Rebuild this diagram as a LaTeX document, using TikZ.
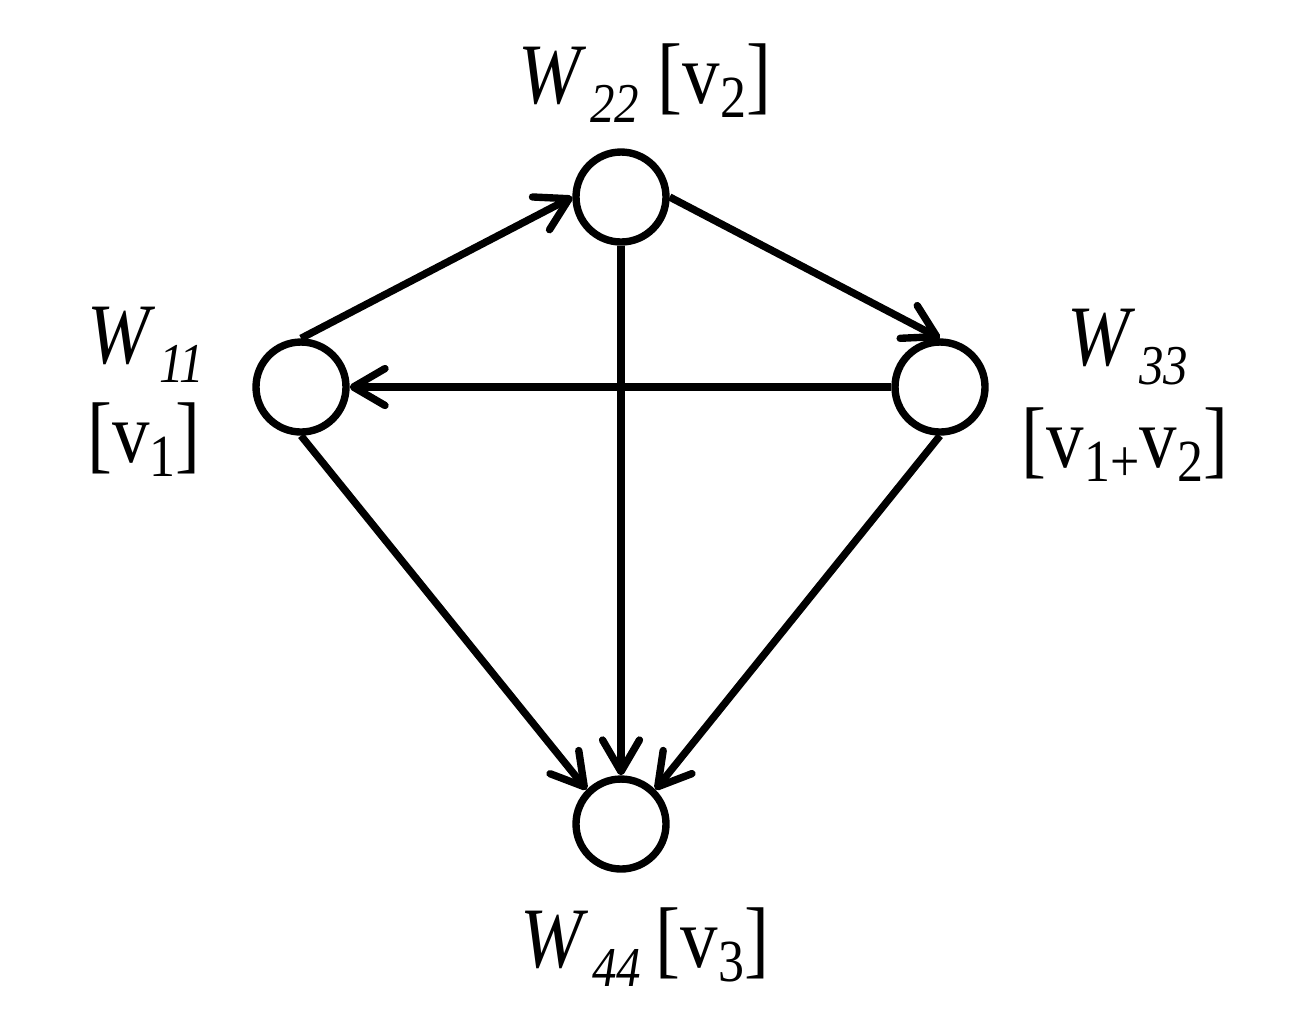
\documentclass[tikz,border=0pt]{standalone}
\usepackage{fontspec}
\setmainfont[FakeStretch=0.87]{Liberation Serif}
\usetikzlibrary{arrows.meta,positioning}
\newcommand{\Wsub}[1]{\textit{W}\hspace{1pt}\raisebox{-5.5pt}{\fontsize{16}{16}\selectfont\textit{#1}}}
\newcommand{\vsub}[1]{\raisebox{-4pt}{\fontsize{17}{17}\selectfont #1}}
\tikzset{
  every picture/.style={line width=2.1pt},
  vert/.style={draw, circle, minimum size=0.9cm, inner sep=0cm},
  wlabel/.style={font=\fontsize{24.5}{28}\selectfont, inner sep=0pt, anchor=base}
}
\begin{document}
\begin{tikzpicture}[>={Straight Barb[length=9pt,width=10.5pt,round]}, node distance=1.9cm and 3.2cm, on grid]
    \useasboundingbox (0,0) rectangle (12.91,-10.35);
    \node [vert] (n2) at (6.21,-1.97) {};
    \node [vert, below left=of n2] (n1) {};
    \node [vert, below right=1.9cm and 3.19cm of n2] (n3) {};
    \node [vert, below=6.27cm of n2] (n4) {};

    \node [wlabel] (l2) at (6.45,-1.03) {\Wsub{22} [v\vsub{2}]};
    \node [wlabel] (l1) at (1.46,-3.63) {\Wsub{11}};
    \node [wlabel] (l1v) at (1.44,-4.62) {[v\vsub{1}]};
    \node [wlabel] (l3) at (11.28,-3.65) {\Wsub{33}};
    \node [wlabel] (l3v) at (11.25,-4.67) {[v\vsub{1+}v\vsub{2}]};
    \node [wlabel] (l4) at (6.45,-9.67) {\Wsub{44}\,[v\vsub{3}]};

    \draw (n1.north) edge[->] (n2.west);
    \draw (n2.east) edge[->] (n3.north);
    \draw (n3.west) edge[->] (n1.east);
    \draw (n2.south) edge[->] (n4.north);
    \draw (n1.south) edge[->] (n4.north west);
    \draw (n3.south) edge[->] (n4.north east);
  \end{tikzpicture}
\end{document}
